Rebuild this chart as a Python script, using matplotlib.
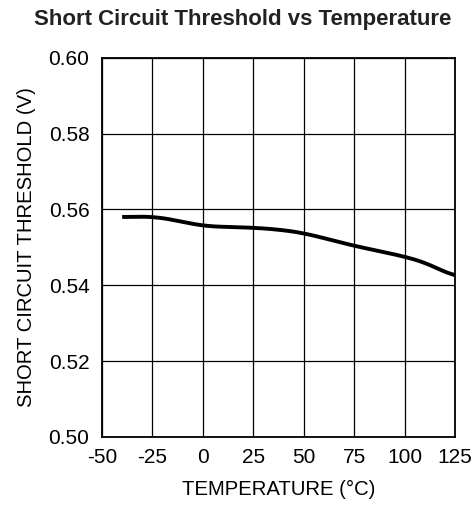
import matplotlib
matplotlib.use("Agg")
import matplotlib.pyplot as plt
import numpy as np

plt.rcParams["font.family"] = ["Liberation Sans", "DejaVu Sans"]

# Curve
TEMP_C    = [-40, -25, -13, 0, 25, 38, 50, 75, 100, 112, 125]
THRESH_V  = [0.5580, 0.5582, 0.5571, 0.5556, 0.5552, 0.5547, 0.5538, 0.5504, 0.5476, 0.5457, 0.5421]

X_TICKS = [-50, -25, 0, 25, 50, 75, 100, 125]
Y_TICKS = [0.50, 0.52, 0.54, 0.56, 0.58, 0.60]

fig = plt.figure(figsize=(4.77, 5.08), dpi=100)
ax = fig.add_axes([0.2138, 0.1398, 0.7402, 0.7464])

# smooth through the read points
xs = np.linspace(TEMP_C[0], TEMP_C[-1], 300)
ys = np.interp(xs, TEMP_C, THRESH_V)
k = 15
ys_s = np.convolve(np.pad(ys, k, mode="edge"), np.ones(2 * k + 1) / (2 * k + 1), mode="valid")
ax.plot(xs, ys_s, color="black", lw=2.8, solid_capstyle="butt")

ax.set_xlim(-50, 125)
ax.set_ylim(0.50, 0.60)
ax.set_xticks(X_TICKS)
ax.set_xticklabels([str(v) for v in X_TICKS])
ax.set_yticks(Y_TICKS)
ax.set_yticklabels([f"{v:.2f}" for v in Y_TICKS])
ax.grid(True, color="black", lw=0.9)
ax.tick_params(length=0, labelsize=15, colors="black")
ax.tick_params(axis="y", pad=9)
ax.tick_params(axis="x", pad=8)
for s in ax.spines.values():
    s.set_linewidth(1.3)

ax.set_xlabel("TEMPERATURE (°C)", fontsize=14.6, labelpad=9)
ax.set_ylabel("SHORT CIRCUIT THRESHOLD (V)", fontsize=14.6, labelpad=9)
fig.text(0.508, 0.961, "Short Circuit Threshold vs Temperature", ha="center", va="center",
         fontsize=16, fontweight="bold", color="#222")

fig.savefig("out.png", dpi=100, facecolor="white")
